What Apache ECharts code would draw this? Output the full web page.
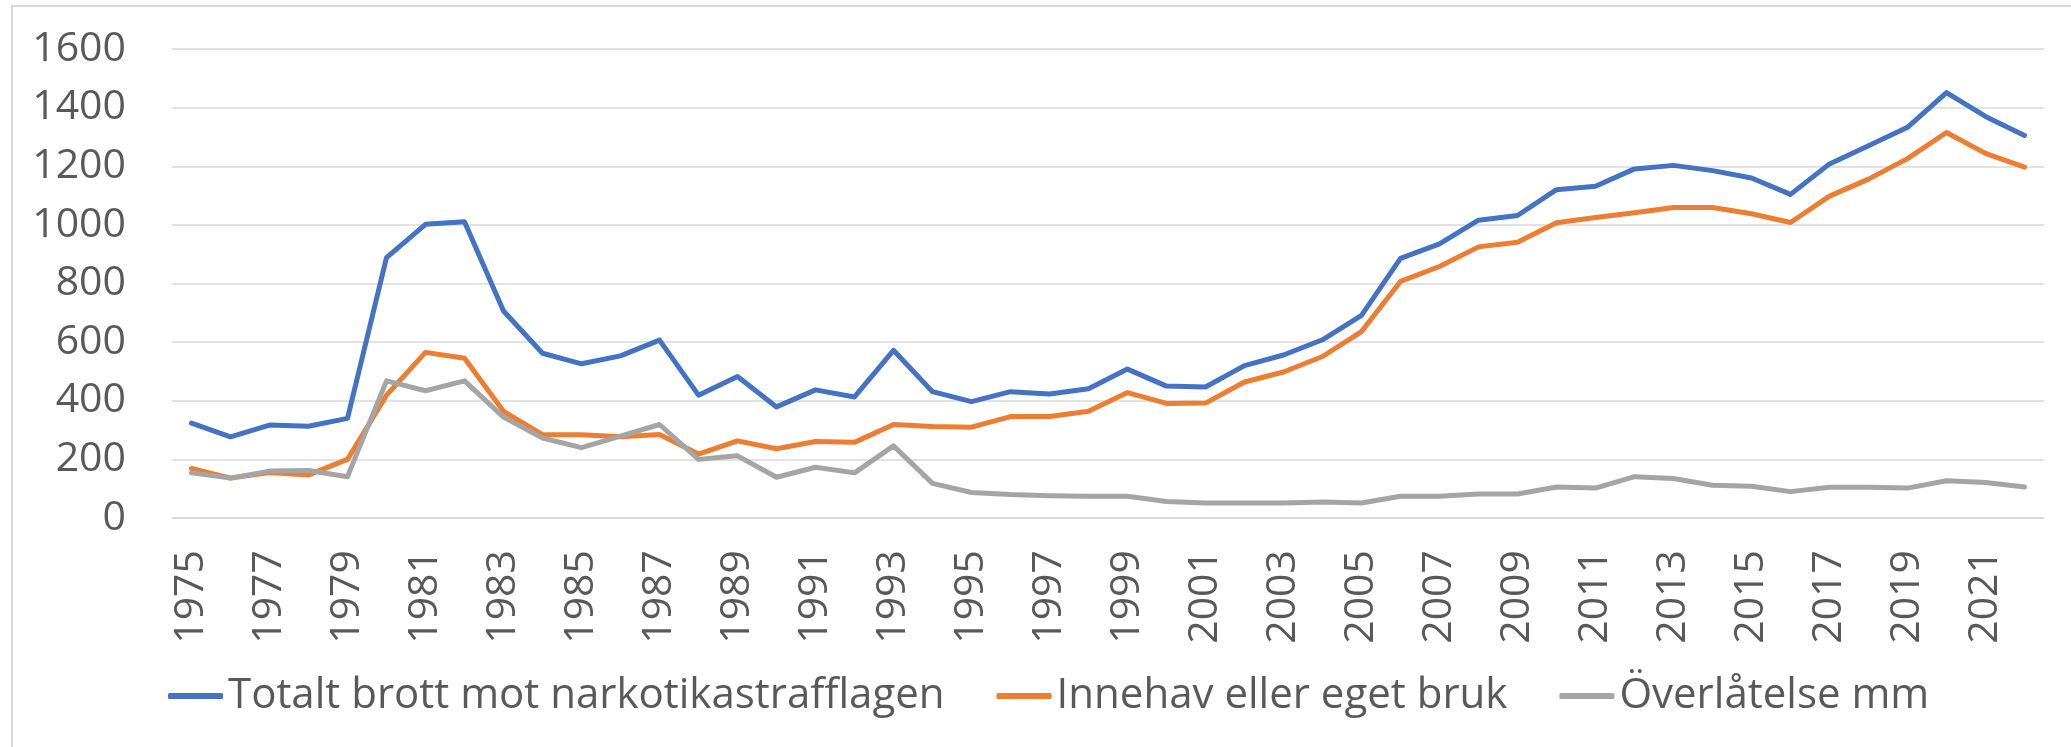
<!DOCTYPE html>
<html>
<head>
<meta charset="utf-8">
<script src="https://cdn.jsdelivr.net/npm/echarts@6/dist/echarts.min.js"></script>
<style>
  html, body { margin: 0; padding: 0; background: #fff; }
  #chart { width: 2071px; height: 747px; }
</style>
</head>
<body>
<div id="chart"></div>
<script>
let years = []
for (let y = 1975; y <= 2022; y++) years.push(String(y))

let seriesNames = ['Totalt brott mot narkotikastrafflagen', 'Innehav eller eget bruk', 'Överlåtelse mm']

let totalt = [324, 277, 317, 313, 340, 888, 1002, 1011, 706, 562, 526, 553, 607,
    419, 483, 379, 437, 413, 572, 431, 397, 431, 423, 441, 508, 450, 447, 520, 556, 608,
    691, 886, 935, 1016, 1032, 1120, 1132, 1191, 1203, 1185, 1160, 1104, 1208, 1270, 1333, 1451, 1370, 1305]

let innehav = [169, 136, 155, 147, 200, 419, 565, 545, 364, 284, 284, 277, 285,
    218, 263, 236, 261, 258, 319, 312, 310, 346, 346, 364, 428, 391, 392, 464, 498, 551,
    636, 807, 858, 925, 941, 1007, 1025, 1041, 1059, 1059, 1038, 1008, 1098, 1156, 1226, 1315, 1244, 1197]

let overlatelse = [154, 136, 160, 162, 141, 468, 434, 468, 344, 273, 240, 279, 319,
    200, 212, 139, 173, 154, 246, 118, 87, 80, 76, 74, 74, 56, 51, 51, 51, 55,
    51, 74, 74, 82, 82, 106, 102, 141, 135, 112, 108, 90, 105, 105, 102, 127, 121, 106]

let colors = ['#4472C4', '#ED7D31', '#A5A5A5']
let font = 'Open Sans'
let textColor = '#595959'

let chart = echarts.init(document.getElementById('chart'))

function lineSeries(name, data, color) {
    return {
        name: name,
        type: 'line',
        data: data,
        symbol: 'none',
        smooth: false,
        lineStyle: { color: color, width: 5, join: 'round', cap: 'round' },
        itemStyle: { color: color },
        emphasis: { disabled: true }
    }
}

let option = {
    animation: false,
    color: colors,
    graphic: [
        {
            type: 'rect',
            shape: { x: 12, y: 6, width: 2100, height: 800 },
            style: { fill: 'none', stroke: '#d9d9d9', lineWidth: 2 },
            silent: true
        }
    ],
    grid: {
        left: 172,
        right: 27,
        top: 49,
        bottom: 229,
        containLabel: false,
        outerBoundsMode: 'none'
    },
    legend: {
        data: seriesNames,
        left: 168,
        top: 675,
        padding: 0,
        itemGap: 52,
        itemWidth: 55,
        itemHeight: 6,
        icon: 'roundRect',
        textStyle: { fontFamily: font, fontSize: 42, color: textColor }
    },
    xAxis: {
        type: 'category',
        data: years,
        boundaryGap: true,
        axisTick: { show: false },
        axisLine: { show: true, lineStyle: { color: '#d9d9d9', width: 1.5 } },
        axisLabel: {
            interval: 1,
            rotate: 90,
            margin: 32,
            fontFamily: font,
            fontSize: 41,
            color: textColor
        }
    },
    yAxis: {
        type: 'value',
        min: 0,
        max: 1600,
        interval: 200,
        axisLine: { show: false },
        axisTick: { show: false },
        splitLine: { lineStyle: { color: '#d9d9d9', width: 1.5 } },
        axisLabel: {
            margin: 46,
            fontFamily: font,
            fontSize: 41,
            color: textColor,
            formatter: function (v) { return String(v) }
        }
    },
    series: [
        lineSeries(seriesNames[0], totalt, colors[0]),
        lineSeries(seriesNames[1], innehav, colors[1]),
        lineSeries(seriesNames[2], overlatelse, colors[2])
    ]
}

chart.setOption(option)
</script>
</body>
</html>
